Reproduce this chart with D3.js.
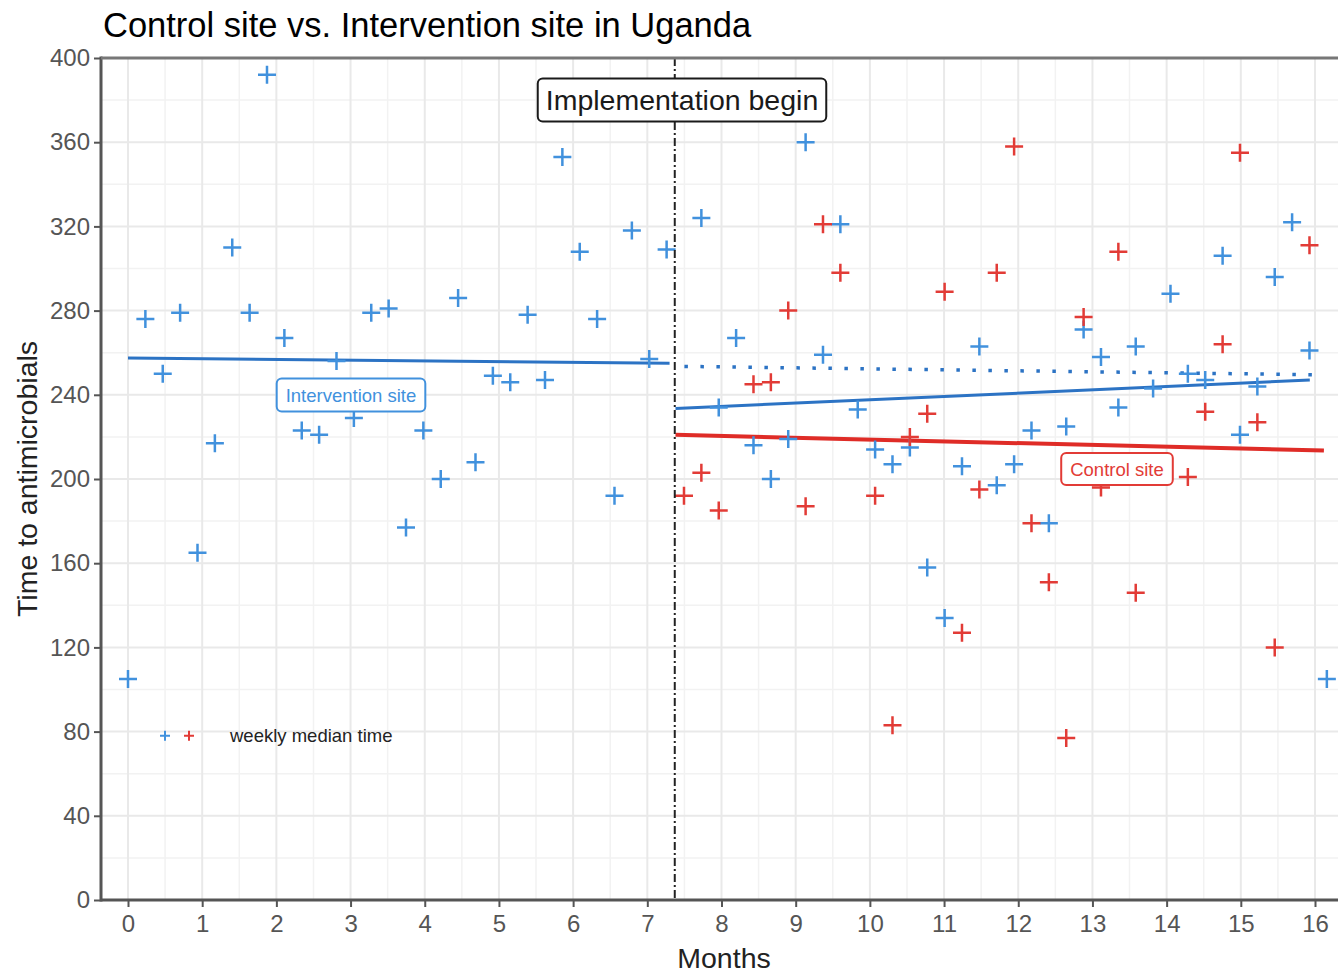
<!DOCTYPE html>
<html>
<head>
<meta charset="utf-8">
<script src="https://cdn.jsdelivr.net/npm/d3@7"></script>
<style>
  body { margin: 0; background: #fff; }
  svg { display: block; font-family: "Liberation Sans", Arial, sans-serif; }
</style>
</head>
<body>
<div id="chart"></div>
<script>
// weekly medians, x is the week number since start
const MONTHS_PER_WEEK = 0.2342;
const interventionWeeks = [0, 1, 2, 3, 4, 5, 6, 7, 8, 9, 10, 11, 12, 13, 14, 15, 16, 17, 18, 19, 20, 21, 22, 23, 24, 25, 26, 27, 28, 29, 30, 31,
  33, 34, 35, 36, 37, 38, 39, 40, 41, 42, 43, 44, 45, 46, 47, 48, 49, 50, 51, 52, 53, 54, 55, 56, 57, 58, 59, 60, 61, 62, 63, 64, 65, 66, 67, 68, 69];
const interventionValues = [105, 276, 250, 279, 165, 217, 310, 279, 392, 267, 223, 221, 256, 229, 279, 281, 177, 223, 200, 286, 208, 249, 246, 278, 247, 353, 308, 276, 192, 318, 257, 309,
  324, 234, 267, 216, 200, 219, 360, 259, 321, 233, 214, 207, 215, 158, 134, 206, 263, 197, 207, 223, 179, 225, 271, 258, 234, 263, 243, 288, 250, 247, 306, 221, 244, 296, 322, 261, 105];
const controlWeeks = [32, 33, 34, 36, 37, 38, 39, 40, 41, 43, 44, 45, 46, 47, 48, 49, 50, 51, 52, 53, 54, 55, 56, 57, 58, 61, 62, 63, 64, 65, 66, 68];
const controlValues = [192, 203, 185, 245, 246, 280, 187, 321, 298, 192, 83, 220, 231, 289, 127, 195, 298, 358, 179, 151, 77, 277, 196, 308, 146, 201, 232, 264, 355, 227, 120, 311];

// fitted lines, [month, value]
const interventionPreTrend = [[0, 257.5], [7.3, 255]];
const interventionPostTrend = [[7.38, 233.5], [15.93, 247]];
const counterfactualTrend = [[7.5, 253.5], [16.05, 249.5]];
const controlPostTrend = [[7.38, 221], [16.12, 213.5]];
const implementationMonth = 7.37;

const xTicks = d3.range(0, 17);
const yTicks = [0, 40, 80, 120, 160, 200, 240, 280, 320, 360, 400];

const blue = '#4191dd', blueLine = '#2c73c4', red = '#e23b36', redLine = '#df2c27';

const W = 1338, H = 974;
const panel = {left: 101, right: 1345, top: 58, bottom: 900};

const x = d3.scaleLinear().domain([0, 16]).range([128, 1315]);
const y = d3.scaleLinear().domain([0, 400]).range([900, 58]);

const svg = d3.select('#chart').append('svg')
    .attr('width', W)
    .attr('height', H);

// grid
const grid = svg.append('g');
const minorX = d3.range(-0.5, 17, 1).filter(m => x(m) > panel.left && x(m) < panel.right);
const minorY = d3.range(20, 400, 40);
grid.selectAll('.vminor').data(minorX).enter().append('line')
    .attr('x1', d => x(d)).attr('x2', d => x(d))
    .attr('y1', panel.top).attr('y2', panel.bottom)
    .attr('stroke', '#f2f2f2').attr('stroke-width', 1.5);
grid.selectAll('.hminor').data(minorY).enter().append('line')
    .attr('x1', panel.left).attr('x2', panel.right)
    .attr('y1', d => y(d)).attr('y2', d => y(d))
    .attr('stroke', '#f2f2f2').attr('stroke-width', 1.5);
grid.selectAll('.vmajor').data(xTicks).enter().append('line')
    .attr('x1', d => x(d)).attr('x2', d => x(d))
    .attr('y1', panel.top).attr('y2', panel.bottom)
    .attr('stroke', '#e9e9e9').attr('stroke-width', 2);
grid.selectAll('.hmajor').data(yTicks).enter().append('line')
    .attr('x1', panel.left).attr('x2', panel.right)
    .attr('y1', d => y(d)).attr('y2', d => y(d))
    .attr('stroke', '#e9e9e9').attr('stroke-width', 2);

// fitted lines
const line = d3.line().x(d => x(d[0])).y(d => y(d[1]));
svg.append('path').datum(interventionPreTrend).attr('d', line)
    .attr('fill', 'none').attr('stroke', blueLine).attr('stroke-width', 3);
svg.append('path').datum(interventionPostTrend).attr('d', line)
    .attr('fill', 'none').attr('stroke', blueLine).attr('stroke-width', 3);
svg.append('path').datum(counterfactualTrend).attr('d', line)
    .attr('fill', 'none').attr('stroke', blueLine).attr('stroke-width', 3.5)
    .attr('stroke-dasharray', '3.5,12.5');
svg.append('path').datum(controlPostTrend).attr('d', line)
    .attr('fill', 'none').attr('stroke', redLine).attr('stroke-width', 4);

// points
const plus = 'M-9,0H9M0,-9V9';
svg.append('g').selectAll('path')
    .data(interventionWeeks.map((w, i) => [w * MONTHS_PER_WEEK, interventionValues[i]]))
    .enter().append('path')
    .attr('d', plus)
    .attr('transform', d => `translate(${x(d[0])},${y(d[1])})`)
    .attr('stroke', blue).attr('stroke-width', 2.5);
svg.append('g').selectAll('path')
    .data(controlWeeks.map((w, i) => [w * MONTHS_PER_WEEK, controlValues[i]]))
    .enter().append('path')
    .attr('d', plus)
    .attr('transform', d => `translate(${x(d[0])},${y(d[1])})`)
    .attr('stroke', red).attr('stroke-width', 2.5);

// implementation line
svg.append('line')
    .attr('x1', x(implementationMonth)).attr('x2', x(implementationMonth))
    .attr('y1', panel.top).attr('y2', panel.bottom)
    .attr('stroke', '#222').attr('stroke-width', 2)
    .attr('stroke-dasharray', '8,3,2,3');

// labels in boxes
function boxLabel(cx, cy, text, size, color, padX, h) {
    const g = svg.append('g');
    const t = g.append('text')
        .attr('x', cx).attr('y', cy)
        .attr('text-anchor', 'middle')
        .attr('dominant-baseline', 'central')
        .attr('font-size', size)
        .attr('fill', color)
        .text(text);
    const w = t.node().getComputedTextLength() + padX * 2;
    g.insert('rect', 'text')
        .attr('x', cx - w / 2).attr('y', cy - h / 2)
        .attr('width', w).attr('height', h)
        .attr('rx', 5)
        .attr('fill', '#fff').attr('stroke', color).attr('stroke-width', 2);
}
boxLabel(682, 100, 'Implementation begin', 28.5, '#1a1a1a', 8, 43);
boxLabel(351, 395, 'Intervention site', 18.5, blue, 9, 33);
boxLabel(1117, 469, 'Control site', 18.5, red, 9, 32);

// axes
const axisColor = '#555';
svg.append('line').attr('x1', panel.left).attr('x2', panel.left)
    .attr('y1', panel.top - 1.5).attr('y2', panel.bottom + 1.5)
    .attr('stroke', axisColor).attr('stroke-width', 3);
svg.append('line').attr('x1', panel.left).attr('x2', panel.right)
    .attr('y1', panel.bottom).attr('y2', panel.bottom)
    .attr('stroke', axisColor).attr('stroke-width', 3);
svg.append('line').attr('x1', panel.left).attr('x2', panel.right)
    .attr('y1', panel.top).attr('y2', panel.top)
    .attr('stroke', '#777').attr('stroke-width', 3);

const xAxis = svg.append('g')
    .attr('transform', `translate(0,${panel.bottom})`)
    .call(d3.axisBottom(x).tickValues(xTicks).tickSize(7).tickPadding(8));
const yAxis = svg.append('g')
    .attr('transform', `translate(${panel.left},0)`)
    .call(d3.axisLeft(y).tickValues(yTicks).tickSize(7).tickPadding(4));
[xAxis, yAxis].forEach(a => {
    a.select('.domain').remove();
    a.selectAll('line').attr('stroke', axisColor).attr('stroke-width', 2);
    a.selectAll('text').attr('fill', '#555').attr('font-size', 24)
        .attr('font-family', '"Liberation Sans", Arial, sans-serif');
});

// legend
svg.append('path').attr('d', 'M-5,0H5M0,-5V5')
    .attr('transform', `translate(165,${y(78)})`)
    .attr('stroke', blue).attr('stroke-width', 2);
svg.append('path').attr('d', 'M-5,0H5M0,-5V5')
    .attr('transform', `translate(189,${y(78)})`)
    .attr('stroke', red).attr('stroke-width', 2);
svg.append('text')
    .attr('x', 230).attr('y', y(78))
    .attr('dominant-baseline', 'central')
    .attr('font-size', 18.5).attr('fill', '#222')
    .text('weekly median time');

// titles
svg.append('text')
    .attr('x', 103).attr('y', 37)
    .attr('font-size', 34.5).attr('fill', '#000')
    .text('Control site vs. Intervention site in Uganda');
svg.append('text')
    .attr('x', 724).attr('y', 968)
    .attr('text-anchor', 'middle')
    .attr('font-size', 28.5).attr('fill', '#222')
    .text('Months');
svg.append('text')
    .attr('transform', 'translate(37,479) rotate(-90)')
    .attr('text-anchor', 'middle')
    .attr('font-size', 28.5).attr('fill', '#222')
    .text('Time to antimicrobials');
</script>
</body>
</html>
